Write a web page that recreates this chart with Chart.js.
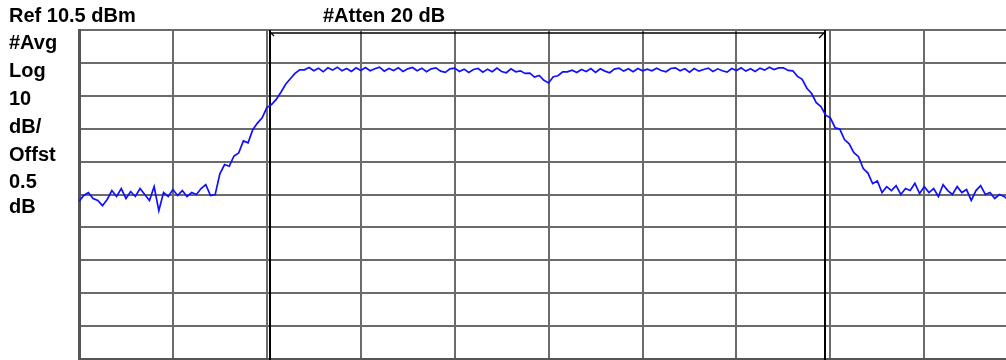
<!DOCTYPE html>
<html>
<head>
<meta charset="utf-8">
<script src="https://cdn.jsdelivr.net/npm/chart.js@4.4.1/dist/chart.umd.min.js"></script>
<style>
  html, body { margin: 0; padding: 0; background: #ffffff; overflow: hidden; }
  #wrap { position: relative; width: 1006px; height: 360px; }
</style>
</head>
<body>
<div id="wrap"><canvas id="c" width="1006" height="360"></canvas></div>
<script>
// ---- Instrument settings ----
const refLevelDbm = 10.5;
const dbPerDiv = 10;
const yDivisions = 10;
const xGridDivs = [0, 1, 2, 3, 4, 5, 6, 7, 8, 9];
const xVisibleMaxDiv = 9.87;
const sweepStartDiv = 0;
const sweepStepDiv = 0.05;

// ---- Annotation texts ----
const headerRef = 'Ref 10.5 dBm';
const headerAtten = '#Atten 20 dB';
const leftLabels = ['#Avg', 'Log', '10', 'dB/', 'Offst', '0.5', 'dB'];

// ---- Band markers (in horizontal divisions) ----
const markerDivs = [2.035, 7.945];

// ---- Trace (dBm), one value per sweep point ----
const floorLeft = [-41.6, -39.8, -38.9, -40.7, -41.3, -42.9, -41.0, -38.3, -40.1, -37.7,
                   -40.7, -38.6, -40.1, -37.7, -39.5, -41.3, -37.1, -44.4, -38.9, -40.1,
                   -38.0, -39.8, -38.3, -40.1, -38.9, -39.5, -37.7, -36.5, -39.8, -39.5];
const riseEdge = [-33.2, -30.4, -30.9, -27.8, -26.9, -23.2, -23.8, -19.8, -17.8, -16.2,
                  -13.1, -12.2, -10.6, -8.4, -6.0, -4.3, -2.7, -1.6];
const plateau = [-1.6, -0.9, -1.9, -1.1, -2.2, -1.0, -1.7, -0.8, -1.9, -1.2, -2.1, -1.0,
                 -1.8, -0.9, -1.9, -1.3, -0.8, -2.0, -1.2, -1.8, -1.0, -2.1, -1.3, -0.9,
                 -1.9, -1.1, -2.2, -1.3, -1.0, -2.0, -2.4, -1.3, -1.1, -2.1, -1.4, -2.4,
                 -1.5, -1.2, -2.3, -1.4, -2.2, -1.1, -2.1, -2.5, -1.3, -2.2, -1.9, -2.7,
                 -2.6, -3.8, -3.3, -4.8, -5.6, -3.7, -3.4, -2.2,
                 -2.2, -1.7, -2.4, -1.5, -2.1, -1.2, -2.4, -1.3, -2.0, -2.5, -1.4, -1.1,
                 -2.0, -1.3, -2.2, -1.2, -1.9, -1.4, -1.9, -1.1, -1.8, -2.2, -1.2, -1.0,
                 -1.9, -1.3, -2.3, -1.2, -2.0, -1.5, -1.1, -2.1, -1.3, -1.9, -2.3, -1.2,
                 -1.8, -1.0, -2.0, -1.3, -2.1, -1.1, -1.7, -0.8, -1.5, -1.0];
const fallEdge = [-1.0, -1.8, -1.9, -3.6, -4.5, -7.2, -8.8, -11.6, -12.8, -15.4, -16.2,
                  -19.2, -19.6, -22.8, -24.1, -26.8, -28.0, -31.6, -33.0, -36.2, -35.4];
const floorRight = [-38.9, -37.1, -38.3, -36.8, -39.5, -37.7, -38.3, -36.1, -39.2, -37.1,
                    -38.9, -37.7, -40.1, -36.5, -38.3, -39.5, -37.1, -38.9, -38.0, -41.3,
                    -38.3, -36.8, -39.5, -38.9, -40.7, -39.5, -40.1, -41.3];

const traceDbm = [].concat(floorLeft, riseEdge, plateau, fallEdge, floorRight);
const tracePoints = traceDbm.map((v, i) => ({ x: sweepStartDiv + i * sweepStepDiv, y: v }));

const yMin = refLevelDbm - dbPerDiv * yDivisions;
const yTicks = Array.from({ length: yDivisions + 1 }, (_, k) => refLevelDbm - k * dbPerDiv);

const annotationPlugin = {
  id: 'saAnnotations',
  beforeDatasetsDraw(chart) {
    const { ctx, chartArea, scales } = chart;
    ctx.save();
    ctx.strokeStyle = '#000000';
    ctx.lineWidth = 2;
    const px = markerDivs.map(d => Math.round(scales.x.getPixelForValue(d)));
    px.forEach(p => {
      ctx.beginPath();
      ctx.moveTo(p, chartArea.top);
      ctx.lineTo(p, chartArea.bottom + 2);
      ctx.stroke();
    });
    const by = chartArea.top + 3;
    ctx.lineWidth = 1.6;
    ctx.beginPath();
    ctx.moveTo(px[0], by);
    ctx.lineTo(px[1], by);
    ctx.stroke();
    ctx.lineWidth = 1.2;
    ctx.beginPath();
    ctx.moveTo(px[0] + 1, by);
    ctx.lineTo(px[0] + 4, by + 3);
    ctx.moveTo(px[1] - 1, by);
    ctx.lineTo(px[1] - 6, by + 5);
    ctx.stroke();
    ctx.restore();
  },
  afterDraw(chart) {
    const { ctx } = chart;
    ctx.save();
    ctx.fillStyle = '#000000';
    ctx.font = 'bold 20px "Liberation Sans", Arial, sans-serif';
    ctx.textBaseline = 'alphabetic';
    ctx.textAlign = 'left';
    ctx.fillText(headerRef, 9, 22);
    ctx.fillText(headerAtten, 323, 22);
    const baselines = [49, 77, 105, 133, 161, 188, 213];
    leftLabels.forEach((t, i) => ctx.fillText(t, 9, baselines[i]));
    ctx.restore();
  }
};

new Chart(document.getElementById('c'), {
  type: 'line',
  data: {
    datasets: [{
      data: tracePoints,
      borderColor: '#1010ff',
      borderWidth: 1.7,
      pointRadius: 0,
      tension: 0,
      fill: false
    }]
  },
  options: {
    responsive: false,
    animation: false,
    events: [],
    layout: { padding: { left: 79, top: 30, right: 0, bottom: 1 } },
    plugins: { legend: { display: false }, tooltip: { enabled: false }, title: { display: false } },
    scales: {
      x: {
        type: 'linear',
        min: sweepStartDiv,
        max: xVisibleMaxDiv,
        afterBuildTicks: s => { s.ticks = xGridDivs.map(v => ({ value: v })); },
        ticks: { display: false },
        grid: { color: '#6b6b6b', lineWidth: 2, drawTicks: false },
        border: { display: true, color: '#555555', width: 3 }
      },
      y: {
        type: 'linear',
        min: yMin,
        max: refLevelDbm,
        afterBuildTicks: s => { s.ticks = yTicks.map(v => ({ value: v })); },
        ticks: { display: false },
        grid: { color: '#6b6b6b', lineWidth: 2, drawTicks: false },
        border: { display: true, color: '#555555', width: 3 }
      }
    }
  },
  plugins: [annotationPlugin]
});
</script>
</body>
</html>
